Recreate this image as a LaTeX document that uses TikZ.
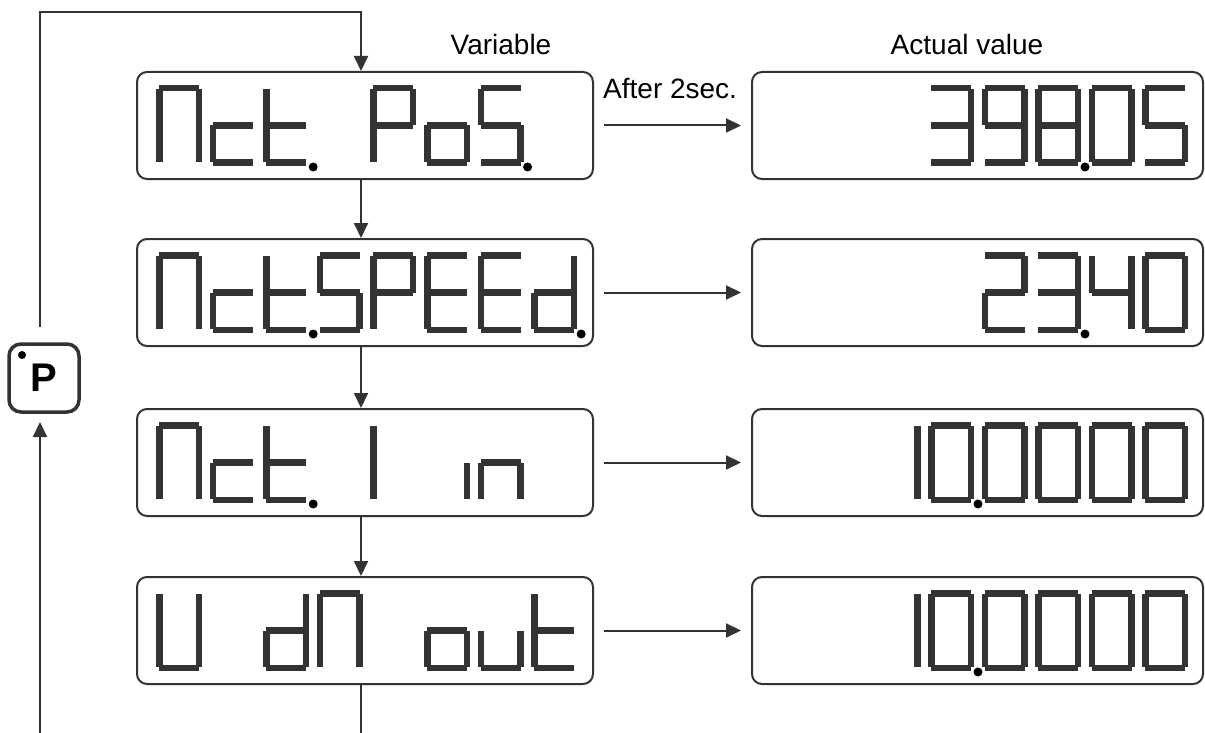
\documentclass[tikz,border=0pt]{standalone}
\usepackage{fontspec}
\setmainfont{Liberation Sans}
\usetikzlibrary{arrows.meta}
\definecolor{ink}{HTML}{333333}
\tikzset{
  dispbox/.style={draw=ink, line width=2pt, rounded corners=10pt, minimum height=107pt, inner sep=0pt},
  leftbox/.style={dispbox, minimum width=456pt},
  rightbox/.style={dispbox, minimum width=451pt},
  conn/.style={draw=ink, line width=2pt},
  arr/.style={conn, -{Triangle[length=15pt,width=14pt]}},
  lbl/.style={inner sep=0pt, font=\fontsize{28}{32}\selectfont},
  pkey/.style={draw=ink, line width=3.5pt, rounded corners=12pt, minimum width=70pt, minimum height=68pt, inner sep=0pt, font=\fontsize{40}{44}\selectfont\bfseries}
}
% seven-segment pieces, cell 46 x 81, origin at top-left
\newcommand\segma{\fill[ink] (3,0) rectangle (43,6.5);}
\newcommand\segmb{\fill[ink] (39.5,4) rectangle (46,40.5);}
\newcommand\segmc{\fill[ink] (39.5,40.5) rectangle (46,77);}
\newcommand\segmd{\fill[ink] (3,74.5) rectangle (43,81);}
\newcommand\segme{\fill[ink] (0,40.5) rectangle (6.5,77);}
\newcommand\segmf{\fill[ink] (0,4) rectangle (6.5,40.5);}
\newcommand\segmg{\fill[ink] (3,37.25) rectangle (43,43.75);}
\newcommand{\sevenseg}[3]{%
  \begin{scope}[shift={(#1,#2)}]
    \foreach \s in {#3}{\csname segm\s\endcsname}
  \end{scope}}
\newcommand{\lcell}[3]{\sevenseg{156+53.6*#2}{#1+13}{#3}}
\newcommand{\rcell}[3]{\sevenseg{1142-53.5*#2}{#1+13}{#3}}
\newcommand{\ldot}[2]{\fill[black] (156+53.6*#2+50,#1+13+82) circle (4.5);}
\newcommand{\rdot}[2]{\fill[black] (1142-53.5*#2+50,#1+13+82) circle (4.5);}
\begin{document}
\begin{tikzpicture}[x=1pt,y=-1pt]
\useasboundingbox (0,0) rectangle (1205,733);

% display boxes
\node[leftbox]  (v1) at (365,125.5) {};
\node[leftbox]  (v2) at (365,292.5) {};
\node[leftbox]  (v3) at (365,462.5) {};
\node[leftbox]  (v4) at (365,630.5) {};
\node[rightbox] (a1) at (977.5,125.5) {};
\node[rightbox] (a2) at (977.5,292.5) {};
\node[rightbox] (a3) at (977.5,462.5) {};
\node[rightbox] (a4) at (977.5,630.5) {};

% labels
\node[lbl, anchor=base] (varlbl) at (501,55) {Variable};
\node[lbl, anchor=base] (actlbl) at (967,55) {Actual value};
\node[lbl, anchor=base west] (after) at (603,99) {After 2sec.};

% P key
\node[pkey] (P) at (44,378) {P};
\fill[black] (22,355) circle (4);

% row 1 : Act. PoS.
\lcell{72}{0}{a,b,c,e,f}
\lcell{72}{1}{g,e,d}
\lcell{72}{2}{f,e,g,d}\ldot{72}{2}
\lcell{72}{4}{a,b,f,e,g}
\lcell{72}{5}{g,c,d,e}
\lcell{72}{6}{a,f,g,c,d}\ldot{72}{6}
% row 2 : Act.SPEEd.
\lcell{239}{0}{a,b,c,e,f}
\lcell{239}{1}{g,e,d}
\lcell{239}{2}{f,e,g,d}\ldot{239}{2}
\lcell{239}{3}{a,f,g,c,d}
\lcell{239}{4}{a,b,f,e,g}
\lcell{239}{5}{a,f,g,e,d}
\lcell{239}{6}{a,f,g,e,d}
\lcell{239}{7}{b,c,g,e,d}\ldot{239}{7}
% row 3 : Act. I in
\lcell{409}{0}{a,b,c,e,f}
\lcell{409}{1}{g,e,d}
\lcell{409}{2}{f,e,g,d}\ldot{409}{2}
\lcell{409}{4}{f,e}
\lcell{409}{5}{c}
\lcell{409}{6}{e,g,c}
% row 4 : U dA out
\lcell{577}{0}{b,c,d,e,f}
\lcell{577}{2}{b,c,g,e,d}
\lcell{577}{3}{a,b,c,e,f}
\lcell{577}{5}{g,c,d,e}
\lcell{577}{6}{c,d,e}
\lcell{577}{7}{f,e,g,d}

% values
\rcell{72}{4}{a,b,g,c,d}
\rcell{72}{3}{a,b,c,d,f,g}
\rcell{72}{2}{a,b,c,d,e,f,g}\rdot{72}{2}
\rcell{72}{1}{a,b,c,d,e,f}
\rcell{72}{0}{a,f,g,c,d}

\rcell{239}{3}{a,b,g,e,d}
\rcell{239}{2}{a,b,g,c,d}\rdot{239}{2}
\rcell{239}{1}{f,g,b,c}
\rcell{239}{0}{a,b,c,d,e,f}

\rcell{409}{5}{b,c}
\rcell{409}{4}{a,b,c,d,e,f}\rdot{409}{4}
\rcell{409}{3}{a,b,c,d,e,f}
\rcell{409}{2}{a,b,c,d,e,f}
\rcell{409}{1}{a,b,c,d,e,f}
\rcell{409}{0}{a,b,c,d,e,f}

\rcell{577}{5}{b,c}
\rcell{577}{4}{a,b,c,d,e,f}\rdot{577}{4}
\rcell{577}{3}{a,b,c,d,e,f}
\rcell{577}{2}{a,b,c,d,e,f}
\rcell{577}{1}{a,b,c,d,e,f}
\rcell{577}{0}{a,b,c,d,e,f}

% connectors
\coordinate (ptop) at (40,327);
\coordinate (tl) at (40,12);
\coordinate (tr) at (361,12);
\coordinate (pbot) at (40,422);
\coordinate (bl) at (40,733);
\coordinate (br) at (361,733);

\draw[arr] (ptop) -- (tl) -- (tr) -- (tr |- v1.north);
\draw[arr] (bl) -- (pbot);
\draw[arr] (tr |- v1.south) -- (tr |- v2.north);
\draw[arr] (tr |- v2.south) -- (tr |- v3.north);
\draw[arr] (tr |- v3.south) -- (tr |- v4.north);
\draw[conn] (tr |- v4.south) -- (br);

\draw[arr, shorten <=10pt, shorten >=10pt] (v1.east) -- (a1.west);
\draw[arr, shorten <=10pt, shorten >=10pt] (v2.east) -- (a2.west);
\draw[arr, shorten <=10pt, shorten >=10pt] (v3.east) -- (a3.west);
\draw[arr, shorten <=10pt, shorten >=10pt] (v4.east) -- (a4.west);
\end{tikzpicture}
\end{document}
